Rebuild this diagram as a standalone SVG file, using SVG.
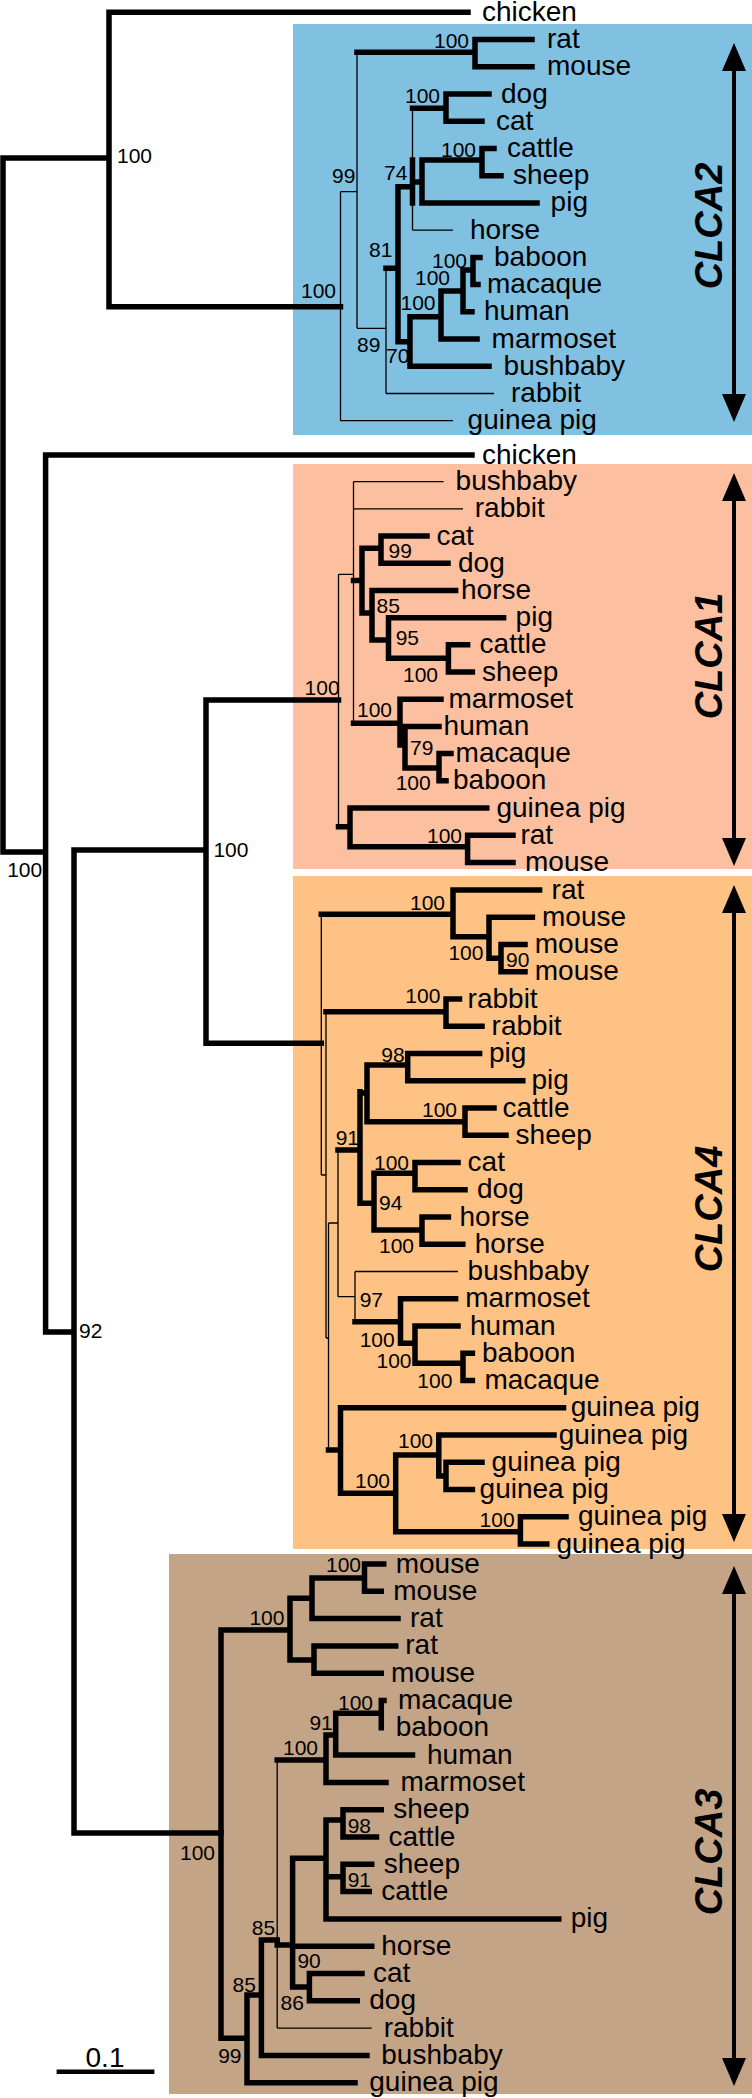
<svg xmlns="http://www.w3.org/2000/svg" width="752" height="2098" viewBox="0 0 752 2098">
<style>
.k{stroke:#000;stroke-width:5.5;fill:none;stroke-linecap:square}
.t{stroke:#000;stroke-width:1.3;fill:none}
.l{font-family:"Liberation Sans",Arial,sans-serif;font-size:28px;fill:#000}
.b{font-family:"Liberation Sans",Arial,sans-serif;font-size:21px;fill:#000}
.c{font-family:"Liberation Sans",Arial,sans-serif;font-size:38px;font-weight:bold;font-style:italic;text-anchor:middle;fill:#000}
.a{stroke:#000;stroke-width:4;fill:none}
</style>
<defs>
<marker id="ah" viewBox="0 0 28 24" refX="14" refY="12" markerWidth="28" markerHeight="24" markerUnits="userSpaceOnUse" orient="auto-start-reverse"><path d="M0 0 L28 12 L0 24 z" fill="#000"/></marker>
</defs>
<rect width="752" height="2098" fill="#fff"/>
<g id="clade-boxes">
<rect x="293" y="24" width="459" height="411" fill="#80C0E0"/>
<rect x="293" y="464" width="459" height="405" fill="#FCC0A0"/>
<rect x="293" y="876" width="459" height="673" fill="#FDC284"/>
<rect x="169" y="1554" width="583" height="540" fill="#C4A486"/>
</g>
<g id="clade-labels">
<g id="clca2-label"><path class="a" d="M734 57 V408" marker-start="url(#ah)" marker-end="url(#ah)"/><text class="c" transform="translate(722,226) rotate(-90)">CLCA2</text></g>
<g id="clca1-label"><path class="a" d="M734 487 V852" marker-start="url(#ah)" marker-end="url(#ah)"/><text class="c" transform="translate(722,656) rotate(-90)">CLCA1</text></g>
<g id="clca4-label"><path class="a" d="M734 899 V1528" marker-start="url(#ah)" marker-end="url(#ah)"/><text class="c" transform="translate(722,1209) rotate(-90)">CLCA4</text></g>
<g id="clca3-label"><path class="a" d="M734 1580 V2072" marker-start="url(#ah)" marker-end="url(#ah)"/><text class="c" transform="translate(722,1852) rotate(-90)">CLCA3</text></g>
</g>
<g id="connectors">
<path class="k" d="M3 158V852M3 158H109M109 12.3V306.7M109 12.3H468M109 306.7H340.5M3 852H45.6M45.6 455V1332M45.6 455H472M45.6 1332H74M74 850V1833M74 850H206M206 700V1043.3M206 700H338.5M206 1043.3H321.3M74 1833H221"/>
<path class="k" d="M357 52.3H475M475 39.5V66.8M475 39.5H532M475 66.8H532M386 268.3H398M398 186.7V341.7M398 186.7H412.5M412.5 160V203M412.5 108.3H446M446 94V121.2M446 94H489M446 121.2H482M412.5 182H422M422 160V202.9M422 160H482M482 148.5V175.7M482 148.5H494M482 175.7H501M422 202.9H537M398 341.7H410M410 316.7V366.3M410 366.3H489M410 316.7H441M441 291V339M441 339H477M441 291H463M463 270V311.8M463 311.8H472M463 270H473M473 257.4V284.6M473 257.4H480M473 284.6H478"/>
<path class="t" d="M340.5 191.7V420.7M340.5 191.7H357M357 52.3V328.3M357 328.3H386M386 268.3V393.5M386 393.5H494M340.5 420.7H453M412.5 108.3V230.1M412.5 230.1H453"/>
<path class="k" d="M353.5 580.6H362M362 548.3V613M362 548.3H381M381 536.1V563.3M381 536.1H427M381 563.3H448M362 613H372M372 590.5V640M372 590.5H455.6M372 640H388.5M388.5 617.7V658.3M388.5 617.7H503.6M388.5 658.3H448.4M448.4 644.8V672M448.4 644.8H467.6M448.4 672H472.4M353.5 723.3H400M400 699.2V745M400 699.2H441M400 745H405M405 726.4V768M405 726.4H439M405 768H439M439 753.6V780.8M439 753.6H451M439 780.8H446M338.5 826.7H350M350 808V846.7M350 808H486.8M350 846.7H467.6M467.6 835.2V862.4M467.6 835.2H513M467.6 862.4H513"/>
<path class="t" d="M338.5 574.3V826.7M338.5 574.3H353.5M353.5 481.7V723.3M353.5 481.7H443.6M353.5 508.9H463"/>
<path class="k" d="M321.3 914.3H453M453 890V936.7M453 890H539.6M453 936.7H489M489 917.25V958.3M489 917.25H532.4M489 958.3H501M501 944.5V971.75M501 944.5H525M501 971.75H525M326 1011.7H446M446 999V1026.25M446 999H459.5M446 1026.25H482M338 1150H360M360 1091.7V1203.3M360 1093H367M367 1065V1121.7M367 1065H407.7M407.7 1053.5V1080.75M407.7 1053.5H479.6M407.7 1080.75H522.8M367 1121.7H465M465 1108V1135.25M465 1108H494M465 1135.25H506M360 1203.3H374M374 1173.3V1230M374 1173.3H415M415 1162.5V1189.75M415 1162.5H458M415 1189.75H465M374 1230H422M422 1217V1244.25M422 1217H448.4M422 1244.25H462.8M355 1321.7H400.5M400.5 1298.75V1343.3M400.5 1298.75H455.6M400.5 1343.3H415M415 1326V1363.3M415 1326H458M415 1363.3H463M463 1353.25V1380.5M463 1353.25H472.4M463 1380.5H472.4M328.5 1450H340.5M340.5 1407.75V1493.3M340.5 1407.75H563.5M340.5 1493.3H395.7M395.7 1455V1531.7M395.7 1455H438.8M438.8 1435V1476M438.8 1435H554M438.8 1476H446M446 1462.25V1489.5M446 1462.25H482M446 1489.5H472.4M395.7 1531.7H520.4M520.4 1516.75V1544M520.4 1516.75H566M520.4 1544H546.8"/>
<path class="t" d="M321.3 914.3V1175M321.3 1175H326M326 1011.7V1338M326 1338H328.5M328.5 1223V1450M328.5 1223H338M338 1150V1296.7M338 1296.7H355M355 1271.5V1321.7M355 1271.5H458"/>
<path class="k" d="M221 1630V2038.3M221 1630H290M290 1598.3V1660M290 1598.3H312M312 1578V1618.6M312 1578H364.5M364.5 1564V1591.3M364.5 1564H383.7M364.5 1591.3H381.3M312 1618.6H398M290 1660H314M314 1645.9V1673.2M314 1645.9H395.7M314 1673.2H381.3M221 2038.3H247M247 1995V2082.7M247 2082.7H355M247 1995H261.4M261.4 1940V2055.4M261.4 2055.4H367M261.4 1940H277.2M277.2 1760H326M326 1735V1782.4M326 1782.4H386M326 1735H335.7M335.7 1713.3V1755.1M335.7 1755.1H412.5M335.7 1713.3H381.3M381.3 1700.5V1727.8M381.3 1700.5H384M277.2 1945H292.6M292.6 1858.3V1987M292.6 1858.3H326M326 1820V1918.9M326 1918.9H558.8M326 1820H343M343 1809.7V1837M343 1809.7H381.3M343 1837H376.5M326 1876.7H343M343 1864.3V1891.6M343 1864.3H371.7M343 1891.6H369.3M292.6 1946.2H371.7M292.6 1987H309.4M309.4 1973.5V2000.8M309.4 1973.5H362M309.4 2000.8H357.3"/>
<path class="t" d="M277.2 1760V2028.1M277.2 2028.1H371.7"/>
</g>
<g id="scale-bar"><path d="M56.6 2071.7H154.4" stroke="#000" stroke-width="4.5"/><text class="l" x="105" y="2067" font-size="27" text-anchor="middle">0.1</text></g>
<g id="support" class="b">
<text x="117" y="163">100</text><text x="434" y="48">100</text><text x="405" y="103">100</text><text x="441" y="156.7">100</text><text x="332" y="183">99</text><text x="384" y="180">74</text><text x="369" y="256.7">81</text><text x="432" y="268.3">100</text><text x="415" y="285">100</text><text x="400.5" y="310">100</text><text x="301" y="298.3">100</text><text x="357" y="351.7">89</text><text x="386" y="363">70</text>
<text x="304.6" y="695">100</text><text x="388.5" y="558.3">99</text><text x="376.5" y="613.3">85</text><text x="395.7" y="645">95</text><text x="403" y="681.7">100</text><text x="357" y="716.7">100</text><text x="410" y="755">79</text><text x="395.7" y="790">100</text><text x="427" y="843.3">100</text><text x="213.4" y="856.7">100</text><text x="7.2" y="876.7">100</text>
<text x="410" y="910">100</text><text x="448.4" y="960">100</text><text x="506" y="966.7">90</text><text x="405.3" y="1003.3">100</text><text x="381.3" y="1061.7">98</text><text x="422" y="1116.7">100</text><text x="335.7" y="1145">91</text><text x="374" y="1170">100</text><text x="379" y="1210">94</text><text x="379" y="1253.3">100</text><text x="359.7" y="1306.7">97</text><text x="359.7" y="1346.7">100</text><text x="376.5" y="1368.3">100</text><text x="417.3" y="1388.3">100</text><text x="79" y="1338.3">92</text><text x="398" y="1448.3">100</text><text x="355" y="1488.3">100</text><text x="479.6" y="1526.7">100</text>
<text x="326" y="1571.7">100</text><text x="249.4" y="1625">100</text><text x="338" y="1710">100</text><text x="309.4" y="1730">91</text><text x="283" y="1755">100</text><text x="180" y="1860">100</text><text x="347.7" y="1833.3">98</text><text x="347.7" y="1886.7">91</text><text x="251.8" y="1935">85</text><text x="297.4" y="1968.3">90</text><text x="232.6" y="1991.7">85</text><text x="280.6" y="2010">86</text><text x="218.2" y="2063.3">99</text>
</g>
<g id="leaves" class="l">
<g id="chicken-a"><text x="482" y="21">chicken</text></g>
<g id="clca2-rat"><text x="547" y="48">rat</text></g>
<g id="clca2-mouse"><text x="547" y="75.3">mouse</text></g>
<g id="clca2-dog"><text x="501" y="102.5">dog</text></g>
<g id="clca2-cat"><text x="496" y="129.7">cat</text></g>
<g id="clca2-cattle"><text x="507" y="157">cattle</text></g>
<g id="clca2-sheep"><text x="513" y="184.2">sheep</text></g>
<g id="clca2-pig"><text x="550.6" y="211.4">pig</text></g>
<g id="clca2-horse"><text x="470" y="238.6">horse</text></g>
<g id="clca2-baboon"><text x="494" y="265.9">baboon</text></g>
<g id="clca2-macaque"><text x="487" y="293.1">macaque</text></g>
<g id="clca2-human"><text x="484" y="320.3">human</text></g>
<g id="clca2-marmoset"><text x="491.6" y="347.5">marmoset</text></g>
<g id="clca2-bushbaby"><text x="503.6" y="374.8">bushbaby</text></g>
<g id="clca2-rabbit"><text x="511" y="402">rabbit</text></g>
<g id="clca2-guineapig"><text x="467.6" y="429.2">guinea pig</text></g>
<g id="chicken-b"><text x="482" y="463.5">chicken</text></g>
<g id="clca1-bushbaby"><text x="455.6" y="490.2">bushbaby</text></g>
<g id="clca1-rabbit"><text x="474.8" y="517.4">rabbit</text></g>
<g id="clca1-cat"><text x="436.5" y="544.6">cat</text></g>
<g id="clca1-dog"><text x="458" y="571.8">dog</text></g>
<g id="clca1-horse"><text x="461" y="599">horse</text></g>
<g id="clca1-pig"><text x="515.6" y="626.2">pig</text></g>
<g id="clca1-cattle"><text x="479.6" y="653.3">cattle</text></g>
<g id="clca1-sheep"><text x="482" y="680.5">sheep</text></g>
<g id="clca1-marmoset"><text x="448.5" y="707.7">marmoset</text></g>
<g id="clca1-human"><text x="443.6" y="734.9">human</text></g>
<g id="clca1-macaque"><text x="455.6" y="762.1">macaque</text></g>
<g id="clca1-baboon"><text x="453" y="789.3">baboon</text></g>
<g id="clca1-guineapig"><text x="496.4" y="816.5">guinea pig</text></g>
<g id="clca1-rat"><text x="520.4" y="843.7">rat</text></g>
<g id="clca1-mouse"><text x="525" y="870.9">mouse</text></g>
<g id="clca4-rat"><text x="551.6" y="898.5">rat</text></g>
<g id="clca4-mouse1"><text x="542" y="925.7">mouse</text></g>
<g id="clca4-mouse2"><text x="534.8" y="953">mouse</text></g>
<g id="clca4-mouse3"><text x="534.8" y="980.2">mouse</text></g>
<g id="clca4-rabbit1"><text x="467.6" y="1007.5">rabbit</text></g>
<g id="clca4-rabbit2"><text x="491.6" y="1034.7">rabbit</text></g>
<g id="clca4-pig1"><text x="489" y="1062">pig</text></g>
<g id="clca4-pig2"><text x="531.4" y="1089.2">pig</text></g>
<g id="clca4-cattle"><text x="502.6" y="1116.5">cattle</text></g>
<g id="clca4-sheep"><text x="515.6" y="1143.7">sheep</text></g>
<g id="clca4-cat"><text x="467.6" y="1171">cat</text></g>
<g id="clca4-dog"><text x="477" y="1198.2">dog</text></g>
<g id="clca4-horse1"><text x="459.5" y="1225.5">horse</text></g>
<g id="clca4-horse2"><text x="474.8" y="1252.7">horse</text></g>
<g id="clca4-bushbaby"><text x="467.6" y="1280">bushbaby</text></g>
<g id="clca4-marmoset"><text x="465.2" y="1307.2">marmoset</text></g>
<g id="clca4-human"><text x="470" y="1334.5">human</text></g>
<g id="clca4-baboon"><text x="482" y="1361.7">baboon</text></g>
<g id="clca4-macaque"><text x="484.4" y="1389">macaque</text></g>
<g id="clca4-guineapig1"><text x="570.7" y="1416.2">guinea pig</text></g>
<g id="clca4-guineapig2"><text x="558.8" y="1443.5">guinea pig</text></g>
<g id="clca4-guineapig3"><text x="491.6" y="1470.7">guinea pig</text></g>
<g id="clca4-guineapig4"><text x="479.6" y="1498">guinea pig</text></g>
<g id="clca4-guineapig5"><text x="578" y="1525.2">guinea pig</text></g>
<g id="clca4-guineapig6"><text x="556.4" y="1552.5">guinea pig</text></g>
<g id="clca3-mouse1"><text x="395.7" y="1572.5">mouse</text></g>
<g id="clca3-mouse2"><text x="393.3" y="1599.8">mouse</text></g>
<g id="clca3-rat1"><text x="410" y="1627.1">rat</text></g>
<g id="clca3-rat2"><text x="405.3" y="1654.4">rat</text></g>
<g id="clca3-mouse3"><text x="391" y="1681.7">mouse</text></g>
<g id="clca3-macaque"><text x="398" y="1709">macaque</text></g>
<g id="clca3-baboon"><text x="395.7" y="1736.3">baboon</text></g>
<g id="clca3-human"><text x="427" y="1763.6">human</text></g>
<g id="clca3-marmoset"><text x="400.5" y="1790.9">marmoset</text></g>
<g id="clca3-sheep1"><text x="393.3" y="1818.2">sheep</text></g>
<g id="clca3-cattle1"><text x="388.5" y="1845.5">cattle</text></g>
<g id="clca3-sheep2"><text x="383.7" y="1872.8">sheep</text></g>
<g id="clca3-cattle2"><text x="381.3" y="1900.1">cattle</text></g>
<g id="clca3-pig"><text x="570.7" y="1927.4">pig</text></g>
<g id="clca3-horse"><text x="381.3" y="1954.7">horse</text></g>
<g id="clca3-cat"><text x="373" y="1982">cat</text></g>
<g id="clca3-dog"><text x="369.3" y="2009.3">dog</text></g>
<g id="clca3-rabbit"><text x="383.7" y="2036.6">rabbit</text></g>
<g id="clca3-bushbaby"><text x="381.3" y="2063.9">bushbaby</text></g>
<g id="clca3-guineapig"><text x="369.3" y="2091.2">guinea pig</text></g>
</g>
</svg>
